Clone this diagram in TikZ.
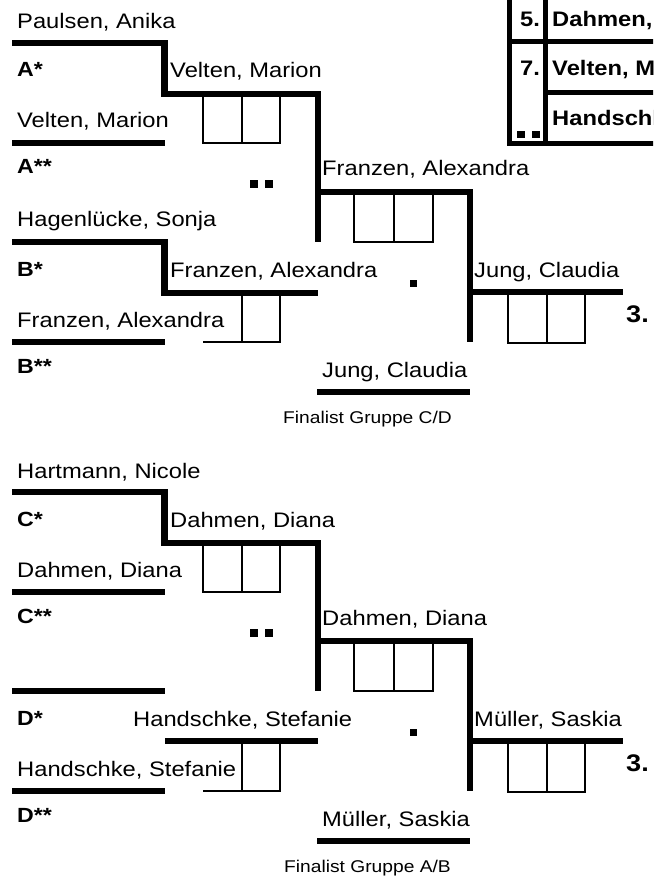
\documentclass[tikz,border=0pt]{standalone}
\usepackage{fontspec}
\setmainfont{Liberation Sans}
\tikzset{
  bline/.style={line width=6.5pt, line join=miter},
  tline/.style={line width=2.2pt},
  tabline/.style={line width=5pt},
  nm/.style={anchor=base west, inner sep=0pt, xscale=1.13, font=\fontsize{21}{25}\selectfont},
  lb/.style={anchor=base west, inner sep=0pt, xscale=1.13, font=\bfseries\fontsize{20.5}{24}\selectfont},
  tb/.style={anchor=base west, inner sep=0pt, xscale=1.13, font=\bfseries\fontsize{21}{25}\selectfont},
  thr/.style={anchor=base west, inner sep=0pt, xscale=1.13, font=\bfseries\fontsize{24}{28}\selectfont},
  fin/.style={anchor=base, inner sep=0pt, xscale=1.13, font=\fontsize{17}{20}\selectfont},
  sq/.style={fill=black}
}
\begin{document}
\begin{tikzpicture}[x=1pt,y=-1pt]
\useasboundingbox (0,0) rectangle (653,877);
\clip (0,0) rectangle (653,877);

% ---------- table top right ----------
\draw[tabline] (509.5,-5) -- (509.5,146);
\draw[tabline] (545.5,-5) -- (545.5,146);
\draw[tabline] (509.5,42) -- (660,42);
\draw[tabline] (545.5,93) -- (660,93);
\draw[tabline] (507,143.5) -- (660,143.5);
\node[tb] (t5) at (520,27) {5.};
\node[tb] (t5n) at (552,27) {Dahmen, Diana};
\node[tb] (t7) at (520,76) {7.};
\node[tb] (t7n) at (552,76) {Velten, Marion};
\node[tb] (t9n) at (552,126) {Handschke, Stefanie};
\fill[sq] (517,131) rectangle (525,138);
\fill[sq] (532,131) rectangle (540,138);

% ---------- upper half (A/B -> C/D finalist) ----------
\draw[bline] (12,43) -- (164.5,43) -- (164.5,94) -- (318,94) -- (318,242);
\draw[bline] (12,143) -- (165,143);
\draw[bline] (12,242) -- (164.5,242) -- (164.5,293) -- (318,293);
\draw[bline] (12,342) -- (165,342);
\draw[bline] (318,192) -- (470,192) -- (470,342);
\draw[bline] (470,292) -- (623,292);
\draw[bline] (317,392) -- (470,392);

\draw[tline] (203,94) rectangle (280,143);
\draw[tline] (242,94) -- (242,143);
\draw[tline] (203,342) -- (280,342) -- (280,293);
\draw[tline] (242,293) -- (242,342);
\draw[tline] (354,192) rectangle (433,242);
\draw[tline] (394,192) -- (394,242);
\draw[tline] (508,292) rectangle (585,343);
\draw[tline] (547,292) -- (547,343);

\fill[sq] (250,180) rectangle (258,188);
\fill[sq] (265,180) rectangle (273,188);
\fill[sq] (410,280) rectangle (417,287);

\node[nm] (n1) at (17,29) {Paulsen, Anika};
\node[lb] (l1) at (17,77) {A*};
\node[nm] (n2) at (17,128) {Velten, Marion};
\node[lb] (l2) at (17,174) {A**};
\node[nm] (n3) at (17,227) {Hagenlücke, Sonja};
\node[lb] (l3) at (17,276) {B*};
\node[nm] (n4) at (17,327) {Franzen, Alexandra};
\node[lb] (l4) at (17,373) {B**};
\node[nm] (w1) at (170,78) {Velten, Marion};
\node[nm] (w2) at (170,277) {Franzen, Alexandra};
\node[nm] (s1) at (322,176) {Franzen, Alexandra};
\node[nm] (f1) at (474,277) {Jung, Claudia};
\node[thr] (p1) at (626,322) {3.};
\node[nm] (j1) at (322,377) {Jung, Claudia};
\node[fin] (g1) at (367.5,423) {Finalist Gruppe C/D};

% ---------- lower half (C/D -> A/B finalist) ----------
\draw[bline] (12,492) -- (164.5,492) -- (164.5,543) -- (318,543) -- (318,691);
\draw[bline] (12,592) -- (165,592);
\draw[bline] (12,691) -- (165,691);
\draw[bline] (165,741) -- (318,741);
\draw[bline] (12,791) -- (165,791);
\draw[bline] (318,641) -- (470,641) -- (470,791);
\draw[bline] (470,741) -- (623,741);
\draw[bline] (317,841) -- (470,841);

\draw[tline] (203,543) rectangle (280,592);
\draw[tline] (242,543) -- (242,592);
\draw[tline] (203,791) -- (280,791) -- (280,741);
\draw[tline] (242,741) -- (242,791);
\draw[tline] (354,641) rectangle (433,691);
\draw[tline] (394,641) -- (394,691);
\draw[tline] (508,741) rectangle (585,792);
\draw[tline] (547,741) -- (547,792);

\fill[sq] (250,629) rectangle (258,637);
\fill[sq] (265,629) rectangle (273,637);
\fill[sq] (410,729) rectangle (417,736);

\node[nm] (n5) at (17,478) {Hartmann, Nicole};
\node[lb] (l5) at (17,526) {C*};
\node[nm] (n6) at (17,577) {Dahmen, Diana};
\node[lb] (l6) at (17,623) {C**};
\node[lb] (l7) at (17,725) {D*};
\node[nm] (n8) at (17,776) {Handschke, Stefanie};
\node[lb] (l8) at (17,822) {D**};
\node[nm] (w3) at (170,527) {Dahmen, Diana};
\node[nm] (w4) at (133,726) {Handschke, Stefanie};
\node[nm] (s2) at (322,625) {Dahmen, Diana};
\node[nm] (f2) at (474,726) {Müller, Saskia};
\node[thr] (p2) at (626,771) {3.};
\node[nm] (j2) at (322,826) {Müller, Saskia};
\node[fin] (g2) at (367.5,872) {Finalist Gruppe A/B};
\end{tikzpicture}
\end{document}
